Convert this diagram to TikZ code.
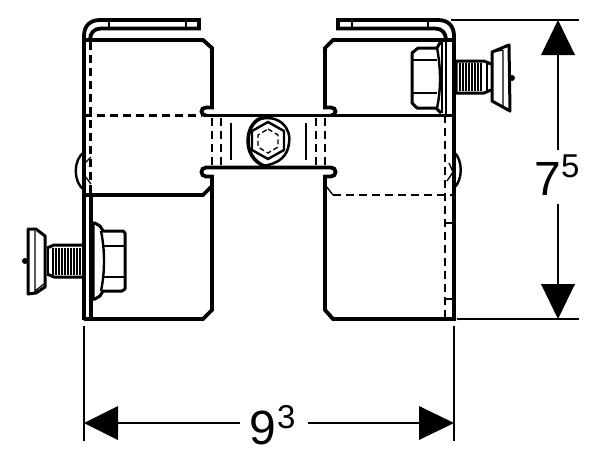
\documentclass[tikz,border=0pt]{standalone}
\usepackage{fontspec}
\setmainfont{Liberation Sans}
\usetikzlibrary{arrows.meta}
\tikzset{
  thick line/.style={line width=3.8pt,line join=miter,line cap=butt},
  mid line/.style={line width=2.4pt},
  thin line/.style={line width=1.3pt},
  dash line/.style={line width=2.2pt,dash pattern=on 8pt off 5pt},
  dim line/.style={line width=1.4pt},
  dim arrow/.style={fill=black,draw=none},
  dim text/.style={font=\fontsize{48}{48}\selectfont,inner sep=0pt},
  sup text/.style={font=\fontsize{33}{33}\selectfont,inner sep=0pt}
}
\begin{document}
\begin{tikzpicture}[x=1pt,y=-1pt]
\useasboundingbox (0,0) rectangle (602,464);
\fill[white] (0,0) rectangle (602,464);
% --- left bracket
\draw[thick line] (84,320) -- (84,36) .. controls (84,26) and (90,20) .. (100,20) -- (199,20) -- (199,28.5) -- (101,28.5) .. controls (94,28.5) and (90,33) .. (90,40);
\draw[mid line] (109,20) -- (109,28) (186,20) -- (186,28);
\draw[thick line] (84,40) -- (203,40) -- (212,48) -- (212,107.5) -- (206,107.5) .. controls (200,107.5) and (200,115.5) .. (206,115.5);
\draw[thick line] (205,115.5) -- (454,115.5);
\draw[dash line] (90.5,42) -- (90.5,195);
\draw[dash line] (84,115.5) -- (202,115.5);
\draw[thick line] (84,195) -- (203,195) -- (212,186) -- (212,176);
\draw[thick line] (91,195) -- (91,320);
\draw[thick line] (84,319) -- (203,319) -- (212,310) -- (212,175);
\draw[thick line] (213.5,176.5) -- (206,176.5) .. controls (200,176.5) and (200,167.5) .. (206,167.5) -- (331,167.5) .. controls (337,167.5) and (337,176.5) .. (331,176.5) -- (323.5,176.5);
\draw[mid line] (84,152) .. controls (73,160) and (73,182) .. (84,190);
\draw[thin line] (91,157) -- (85,163) (85,176) -- (91,184);
% --- middle section
\draw[dash line,line width=1.6pt] (212,118) -- (212,166) (221,118) -- (221,166) (316,118) -- (316,166) (325,118) -- (325,166);
\draw[thin line] (231,123) -- (231,160) (306,123) -- (306,160);
\draw[line width=3.5pt] (268,117) .. controls (255,117) and (248,128) .. (248,141) .. controls (248,156) and (258,165) .. (268,167);
\draw[line width=2.5pt] (256,120) .. controls (280,112) and (292,130) .. (289,143) .. controls (288,155) and (280,164) .. (262,166);
\draw[line width=2.4pt] (268,122) -- (284,131) -- (284,150) -- (268,159) -- (252,150) -- (252,131) -- cycle;
\draw[line width=1.3pt,dash pattern=on 5pt off 3pt] (268,129) -- (278,135) -- (278,147) -- (268,153) -- (258,147) -- (258,135) -- cycle;
% --- right bracket
\draw[thick line] (454,320) -- (454,36) .. controls (454,26) and (448,20) .. (438,20) -- (338,20) -- (338,28.5) -- (435,28.5) .. controls (442,28.5) and (446,33) .. (446,40);
\draw[mid line] (352,20) -- (352,28) (428,20) -- (428,28);
\draw[thick line] (454,40) -- (333,40) -- (325,48) -- (325,107.5) -- (331,107.5) .. controls (337,107.5) and (337,115.5) .. (331,115.5);
\draw[thick line] (325,175) -- (325,310) -- (333,319) -- (456,319);
\draw[mid line] (446,40) -- (446,115);
\draw[dash line] (445,115) -- (445,319);
\draw[dash line] (333,195) -- (452,195);
\draw[thin line] (326,186) -- (333,195);
\draw[thin line] (445,223) -- (453,223) (445,299) -- (453,299);
\draw[mid line] (454,152) .. controls (463,160) and (463,180) .. (454,188);
\draw[thin line] (449,163) -- (453,172) -- (447,181);
% --- right bolt
\draw[line width=3pt,line join=round] (441,41) -- (437,48) -- (418,48) -- (412,53) -- (412,103) -- (417,108) -- (436,108) -- (441,113);
\draw[thin line] (413,60) -- (437,60) (413,93) -- (437,93);
\draw[mid line] (437,48) .. controls (441,68) and (441,90) .. (437,108);
\draw[thin line] (442,42) -- (442,113);
\draw[line width=3pt] (456,61) -- (484,61) -- (491,64) (456,93) -- (484,93) -- (491,90) (456,60) -- (456,94);
\draw[line width=3pt,line join=round] (492,52) -- (509,45) -- (510,111) -- (492,101) -- cycle;
\draw[thin line] (503,50) -- (503,106) (492,52) -- (503,50);
\draw[thin line] (460,63) -- (460,91) (463,63) -- (463,91) (466,63) -- (466,91) (469,63) -- (469,91) (472,63) -- (472,91) (475,63) -- (475,91) (478,63) -- (478,91) (481,63) -- (481,91);
\draw[mid line] (487,62) -- (487,92);
\fill (512,78) circle[radius=3];
% --- left bolt
\draw[line width=3pt,line join=round] (95,223) -- (100,226) -- (103,231) -- (123,231) -- (125,233) -- (125,289) -- (122,291) -- (103,291) -- (100,296) -- (95,299) -- (93,299) -- (93,223) -- cycle;
\draw[thin line] (102,246) -- (124,246) (102,277) -- (124,277);
\draw[mid line] (101,231) .. controls (105,250) and (105,272) .. (101,291);
\draw[line width=3pt] (82,245) -- (54,245) -- (47,248) (82,277) -- (54,277) -- (47,274);
\draw[line width=3pt,line join=round] (45,236) -- (36,229) -- (28,229) -- (28,294) -- (36,293) -- (45,287) -- cycle;
\draw[thin line] (35,231) -- (35,292) (35,291) -- (44,284);
\draw[thin line] (53,248) -- (53,275) (56,248) -- (56,275) (59,248) -- (59,275) (62,248) -- (62,275) (65,248) -- (65,275) (68,248) -- (68,275) (71,248) -- (71,275) (74,248) -- (74,275) (77,248) -- (77,275) (80,248) -- (80,275);
\draw[mid line] (48,248) -- (48,274);
\fill (25,261) circle[radius=3];
% --- dimensions
\coordinate (hl) at (84,423);
\coordinate (hr) at (454,423);
\coordinate (vt) at (558,20);
\coordinate (vb) at (558,319);
\node[dim text,anchor=base west] (w) at (249,444) {9};
\node[sup text,anchor=base west] (ws) at (277,428) {3};
\node[dim text,anchor=base west] (h) at (534,195) {7};
\node[sup text,anchor=base west] (hs) at (561,177) {5};
\draw[dim line] (84,326) -- (84,441);
\draw[dim line] (454,326) -- (454,441);
\draw[dim line] (451,20) -- (579,20);
\draw[dim line] (457,319) -- (579,319);
\fill[dim arrow] (hl) -- (118,406) -- (118,440) -- cycle;
\fill[dim arrow] (hr) -- (419,406) -- (419,440) -- cycle;
\fill[dim arrow] (vt) -- (541,55) -- (575,55) -- cycle;
\fill[dim arrow] (vb) -- (541,284) -- (575,284) -- cycle;
\draw[dim line] (118,423) -- (240,423);
\draw[dim line] (308,423) -- (419,423);
\draw[dim line] (558,55) -- (558,150);
\draw[dim line] (558,204) -- (558,284);
\end{tikzpicture}
\end{document}
